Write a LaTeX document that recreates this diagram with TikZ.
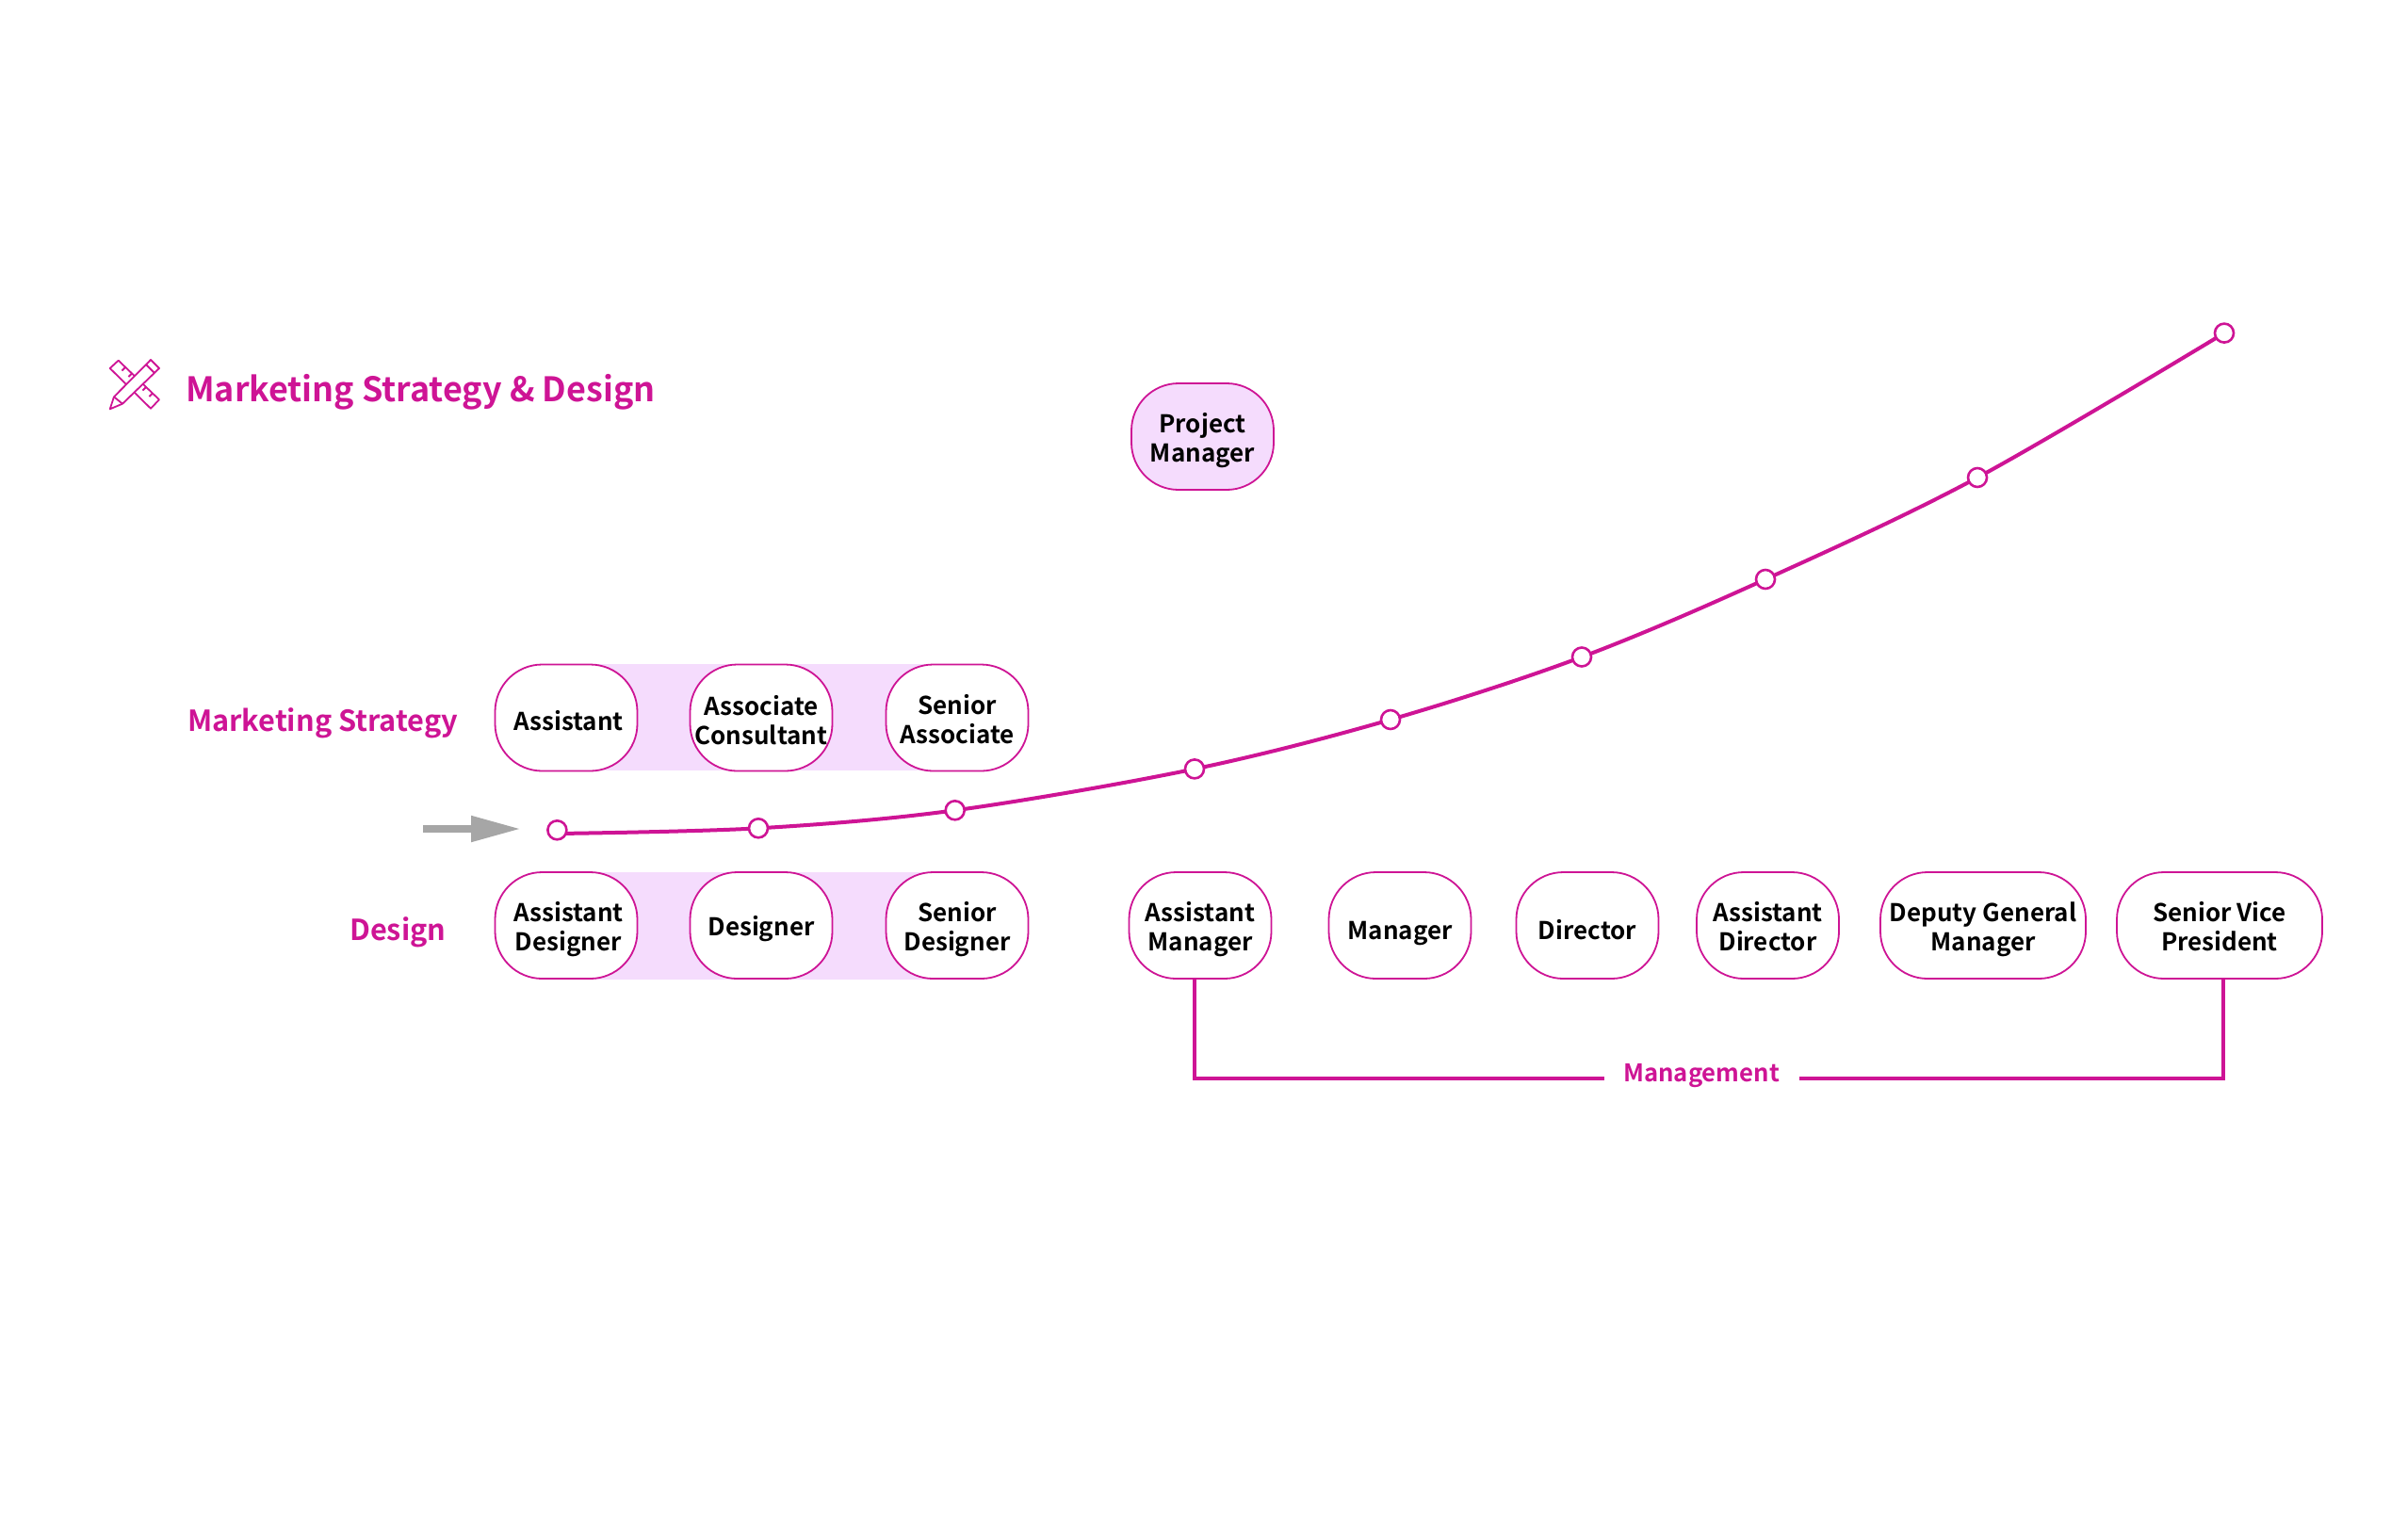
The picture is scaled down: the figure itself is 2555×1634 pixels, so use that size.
\documentclass[tikz,border=0pt]{standalone}
\usepackage{fontspec}
\setmainfont{Noto Sans CJK JP}[BoldFont={Noto Sans CJK JP Bold}]
\usetikzlibrary{arrows.meta,calc}
\definecolor{mag}{HTML}{CE1495}
\definecolor{band}{HTML}{F5DCFD}
\definecolor{arrowgray}{HTML}{A6A6A6}
\newcommand\lift[1]{\rule{0pt}{#1pt}}
\newcommand\drop{\rule[-7pt]{0pt}{7pt}}
\newcommand\nudge{\hspace*{5pt}}
\tikzset{
  x=1pt,y=-1pt,
  role/.style={draw=mag,line width=1.8pt,fill=white,rounded corners=50pt,minimum height=113pt,inner sep=0pt,align=center,font=\fontsize{26}{31}\selectfont\bfseries,text=black},
  w151/.style={role,minimum width=151pt},
  w218/.style={role,minimum width=218pt},
  dot/.style={circle,draw=mag,line width=2.6pt,fill=white,minimum size=20pt,inner sep=0pt},
  lab/.style={text=mag,font=\fontsize{30.7}{34}\selectfont\bfseries,inner sep=0pt},
  trail/.style={draw=mag,line width=4pt},
  icon/.style={draw=mag,line width=1.8pt,line join=round}
}
\begin{document}
\begin{tikzpicture}
\useasboundingbox (0,0) rectangle (2555,1634);
\fill[white] (0,0) rectangle (2555,1634);
% bands
\fill[band] (601,704.5) rectangle (1016,818);
\fill[band] (601,925.5) rectangle (1016,1039.5);
% boxes
\node[w151] (a1) at (601,762) {\lift{33}\nudge Assistant\drop};
\node[w151] (a2) at (808,762) {\lift{32.5}Associate\\Consultant\drop};
\node[w151] (a3) at (1016,762) {\lift{30.5}Senior\\Associate\drop};
\node[w151] (d1) at (601,982.5) {\lift{30}\nudge Assistant\\\nudge Designer\drop};
\node[w151] (d2) at (808,982.5) {\lift{29}Designer\drop};
\node[w151] (d3) at (1016,982.5) {\lift{30}Senior\\Designer\drop};
\node[w151] (m1) at (1274,982.5) {\lift{30}Assistant\\Manager\drop};
\node[w151] (m2) at (1486,982.5) {\lift{37}Manager\drop};
\node[w151] (m3) at (1685,982.5) {\lift{37}Director\drop};
\node[w151] (m4) at (1876.5,982.5) {\lift{30}Assistant\\Director\drop};
\node[w218] (m5) at (2105,982.5) {\lift{30}Deputy General\\Manager\drop};
\node[w218] (m6) at (2356,982.5) {\lift{30}Senior Vice\\President\drop};
\node[w151,fill=band] (pm) at (1276.5,463.5) {\lift{30}Project\\Manager\drop};
% labels
\node[lab,anchor=base west,font=\fontsize{35.9}{40}\selectfont\bfseries] (title) at (197,426) {Marketing Strategy \& Design};
\node[lab,anchor=base west] (ms) at (199,776) {Marketing Strategy};
\node[lab,anchor=base west] (dg) at (371,998) {Design};
\node[text=mag,font=\fontsize{25.7}{30}\selectfont\bfseries,inner sep=0pt] (mgmt) at (1806,1142) {Management};
% management bracket
\coordinate (bl) at (1268,1145);
\coordinate (br) at (2360,1145);
\coordinate (gl) at (1703,1145);
\coordinate (gr) at (1910,1145);
\coordinate (tl) at (1268,1040);
\coordinate (tr) at (2360,1040);
\draw[trail,line join=miter] (tl) -- (bl) -- (gl);
\draw[trail,line join=miter] (gr) -- (br) -- (tr);
% arrow
\coordinate (as) at (449,880);
\coordinate (ae) at (553,880);
\draw[arrowgray,line width=8pt,-{Triangle[length=53pt,width=26pt]}] (as) -- (ae);
% curve
\coordinate (c1) at (591,885);
\coordinate (c2) at (805,879.3);
\coordinate (c3) at (1013.7,860.3);
\coordinate (c4) at (1268,816.4);
\coordinate (c5) at (1476,764);
\coordinate (c6) at (1679,697.5);
\coordinate (c7) at (1874,615);
\coordinate (c8) at (2099,507);
\coordinate (c9) at (2361,353.6);
\draw[trail,line cap=round] plot[smooth,tension=0.55] coordinates {(c1)(c2)(c3)(c4)(c5)(c6)(c7)(c8)(c9)};
\node[dot] (n1) at (591.4,881.3) {};
\node[dot] (n2) at (c2) {};
\node[dot] (n3) at (c3) {};
\node[dot] (n4) at (c4) {};
\node[dot] (n5) at (c5) {};
\node[dot] (n6) at (c6) {};
\node[dot] (n7) at (c7) {};
\node[dot] (n8) at (c8) {};
\node[dot] (n9) at (c9) {};
% icon: ruler
\draw[icon] (125.7,382.7) -- (116.7,391) -- (160,433.7) -- (169,424.3) -- cycle;
\draw[icon] (133,390) -- (129.5,393.5);
\draw[icon] (140,396.5) -- (136.5,400);
\draw[icon] (155,411) -- (151.5,414.5);
\draw[icon] (162,417.5) -- (158.5,421);
% icon: pencil
\draw[icon,fill=white] (160,382) -- (169,391) -- (130,428.7) -- (116.7,434.3) -- (121,421.3) -- cycle;
\draw[icon] (155,387) -- (164,396);
\draw[icon] (121,421.3) -- (130,428.7);
\end{tikzpicture}
\end{document}
